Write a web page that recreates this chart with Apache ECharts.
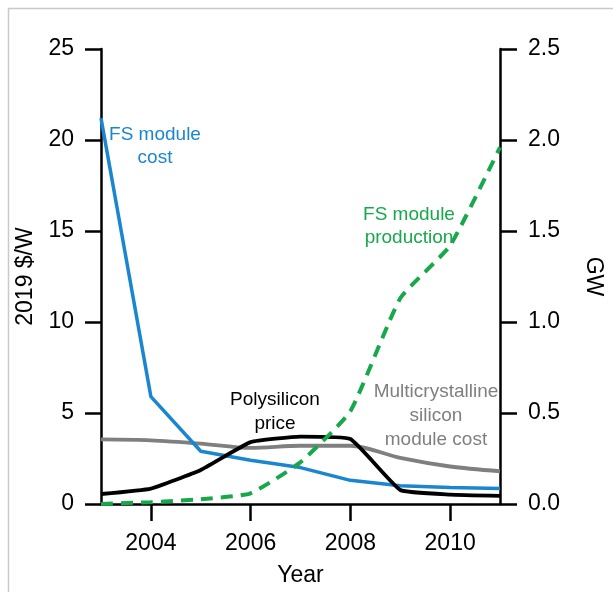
<!DOCTYPE html>
<html>
<head>
<meta charset="utf-8">
<script src="https://cdn.jsdelivr.net/npm/echarts@6/dist/echarts.min.js"></script>
<style>html,body{margin:0;padding:0;background:#fff;}#c{width:613px;height:592px;}</style>
</head>
<body>
<div id="c"></div>
<script>
const years = [2003, 2004, 2005, 2006, 2007, 2008, 2009, 2010, 2011];
const fsModuleCost = [21.2, 5.9, 2.9, 2.4, 2.0, 1.3, 1.0, 0.9, 0.85];
const multiSiCost = [3.55, 3.5, 3.32, 3.08, 3.2, 3.2, 2.53, 2.06, 1.8];
const polysiliconPrice = [0.55, 0.85, 1.87, 3.4, 3.7, 3.57, 0.77, 0.52, 0.45];
const fsProductionGW = [0.0, 0.01, 0.026, 0.059, 0.23, 0.51, 1.13, 1.42, 1.96];
const xTickYears = [2004, 2006, 2008, 2010];

const FONT = '"Liberation Sans", Arial, Helvetica, sans-serif';
const BLUE = '#1b86d0', GREEN = '#17a84b', GRAY = '#7f7f7f', BLACK = '#000';

function pairs(vals) { return years.map((y, i) => [y, vals[i]]); }

const chart = echarts.init(document.getElementById('c'), null, { renderer: 'canvas' });
chart.setOption({
  animation: false,
  backgroundColor: '#fff',
  grid: { left: 101, right: 106, top: 49, bottom: 85, containLabel: false },
  xAxis: {
    type: 'value', min: 2003, max: 2011,
    name: 'Year', nameLocation: 'middle', nameGap: 60,
    nameTextStyle: { fontFamily: FONT, fontSize: 23, color: '#000' },
    axisLine: { lineStyle: { color: '#000', width: 2.5 } },
    axisTick: { show: true, inside: false, length: 17, lineStyle: { color: '#000', width: 2.5 }, customValues: xTickYears },
    axisLabel: { fontFamily: FONT, fontSize: 23, color: '#000', margin: 28, customValues: xTickYears, formatter: v => String(v) },
    splitLine: { show: false }
  },
  yAxis: [
    {
      type: 'value', min: 0, max: 25, interval: 5, position: 'left',
      name: '2019 $/W', nameLocation: 'middle', nameGap: 64, nameRotate: 90,
      nameTextStyle: { fontFamily: FONT, fontSize: 23, color: '#000' },
      axisLine: { show: true, lineStyle: { color: '#000', width: 2.5 } },
      axisTick: { show: true, inside: false, length: 16, lineStyle: { color: '#000', width: 2.5 } },
      axisLabel: { fontFamily: FONT, fontSize: 23, color: '#000', margin: 27 },
      splitLine: { show: false }
    },
    {
      type: 'value', min: 0, max: 2.5, interval: 0.5, position: 'right',
      name: 'GW', nameLocation: 'middle', nameGap: 82, nameRotate: -90,
      nameTextStyle: { fontFamily: FONT, fontSize: 23, color: '#000' },
      axisLine: { show: true, lineStyle: { color: '#000', width: 2.5 } },
      axisTick: { show: true, inside: false, length: 17, lineStyle: { color: '#000', width: 2.5 } },
      axisLabel: { fontFamily: FONT, fontSize: 23, color: '#000', margin: 28, formatter: v => v.toFixed(1) },
      splitLine: { show: false }
    }
  ],
  series: [
    { name: 'Multicrystalline silicon module cost', type: 'line', yAxisIndex: 0, data: pairs(multiSiCost),
      smooth: 0.3, showSymbol: false, lineStyle: { color: GRAY, width: 3.8 }, z: 2 },
    { name: 'FS module cost', type: 'line', yAxisIndex: 0, data: pairs(fsModuleCost),
      showSymbol: false, lineStyle: { color: BLUE, width: 3.5 }, z: 3 },
    { name: 'Polysilicon price', type: 'line', yAxisIndex: 0, data: pairs(polysiliconPrice),
      smooth: 0.12, showSymbol: false, lineStyle: { color: BLACK, width: 3.8 }, z: 4 },
    { name: 'FS module production', type: 'line', yAxisIndex: 1, data: pairs(fsProductionGW),
      smooth: 0.15, showSymbol: false, lineStyle: { color: GREEN, width: 4, type: [12, 8] }, z: 5 }
  ],
  graphic: [
    { type: 'rect', left: 6, top: 6, shape: { x: 0, y: 0, width: 700, height: 700 }, silent: true,
      style: { fill: 'none', stroke: '#c9c9c9', lineWidth: 1.5 }, z: -10 },
    { type: 'text', x: 155, y: 146, style: { text: 'FS module\ncost', fill: BLUE, font: '19px ' + FONT, align: 'center', verticalAlign: 'middle', lineHeight: 23 } },
    { type: 'text', x: 409, y: 226, style: { text: 'FS module\nproduction', fill: GREEN, font: '19px ' + FONT, align: 'center', verticalAlign: 'middle', lineHeight: 23 } },
    { type: 'text', x: 275, y: 412, style: { text: 'Polysilicon\nprice', fill: BLACK, font: '19px ' + FONT, align: 'center', verticalAlign: 'middle', lineHeight: 24 } },
    { type: 'text', x: 436, y: 416, style: { text: 'Multicrystalline\nsilicon\nmodule cost', fill: GRAY, font: '19px ' + FONT, align: 'center', verticalAlign: 'middle', lineHeight: 24 } }
  ]
});
</script>
</body>
</html>
